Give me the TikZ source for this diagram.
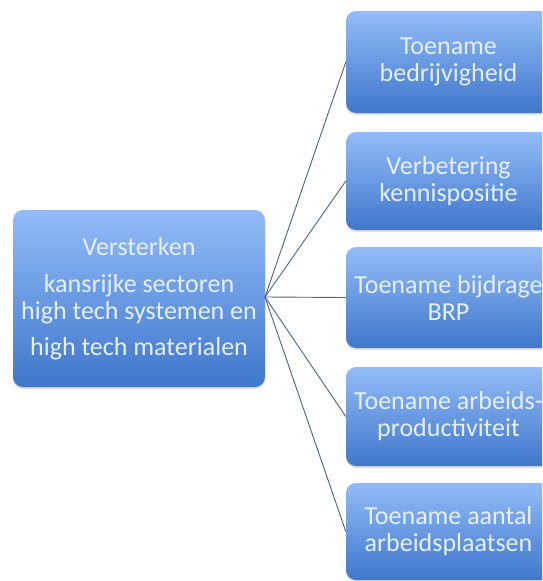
\documentclass[tikz,border=0pt]{standalone}
\usepackage{fontspec}
\setmainfont{Carlito}
\usetikzlibrary{shadows}
\definecolor{boxtop}{HTML}{93BCF8}
\definecolor{boxbot}{HTML}{3F77CB}
\definecolor{boxtext}{HTML}{E6EFFD}
\definecolor{wire}{HTML}{4F6282}
\tikzset{
  goalbox/.style={draw=none, rounded corners=10pt, top color=boxtop, bottom color=boxbot,
    text=boxtext, align=center, inner sep=0pt,
    font=\fontsize{26}{27}\selectfont,
    drop shadow={opacity=0.25, shadow xshift=0pt, shadow yshift=-2pt}},
  wireline/.style={draw=wire, line width=0.9pt}
}
\begin{document}
\begin{tikzpicture}[x=1pt, y=-1pt]
\useasboundingbox (0,0) rectangle (542,581);
\clip (0,0) rectangle (542,581);
\fill[white] (0,0) rectangle (542,581);
\node[goalbox, minimum width=252pt, minimum height=177pt] (src) at (139,298.5)
  {Versterken\\[10pt] kansrijke sectoren\\ high tech systemen en\\[9pt] high tech materialen};
\node[goalbox, minimum width=205pt, minimum height=102pt] (t1) at (448.5,62) {Toename\\ bedrijvigheid};
\node[goalbox, minimum width=205pt, minimum height=98pt] (t2) at (448.5,181) {Verbetering\\ kennispositie};
\node[goalbox, minimum width=205pt, minimum height=101pt] (t3) at (448.5,297.5) {Toename bijdrage\\ BRP};
\node[goalbox, minimum width=205pt, minimum height=99pt] (t4) at (448.5,416.5) {Toename arbeids-\\ productiviteit};
\node[goalbox, minimum width=205pt, minimum height=97pt] (t5) at (448.5,531.5) {Toename aantal\\ arbeidsplaatsen};
\coordinate (fan) at (265,297);
\foreach \t in {t1,t2,t3,t4,t5}
  \draw[wireline] (fan) -- (\t.west);
\end{tikzpicture}
\end{document}
